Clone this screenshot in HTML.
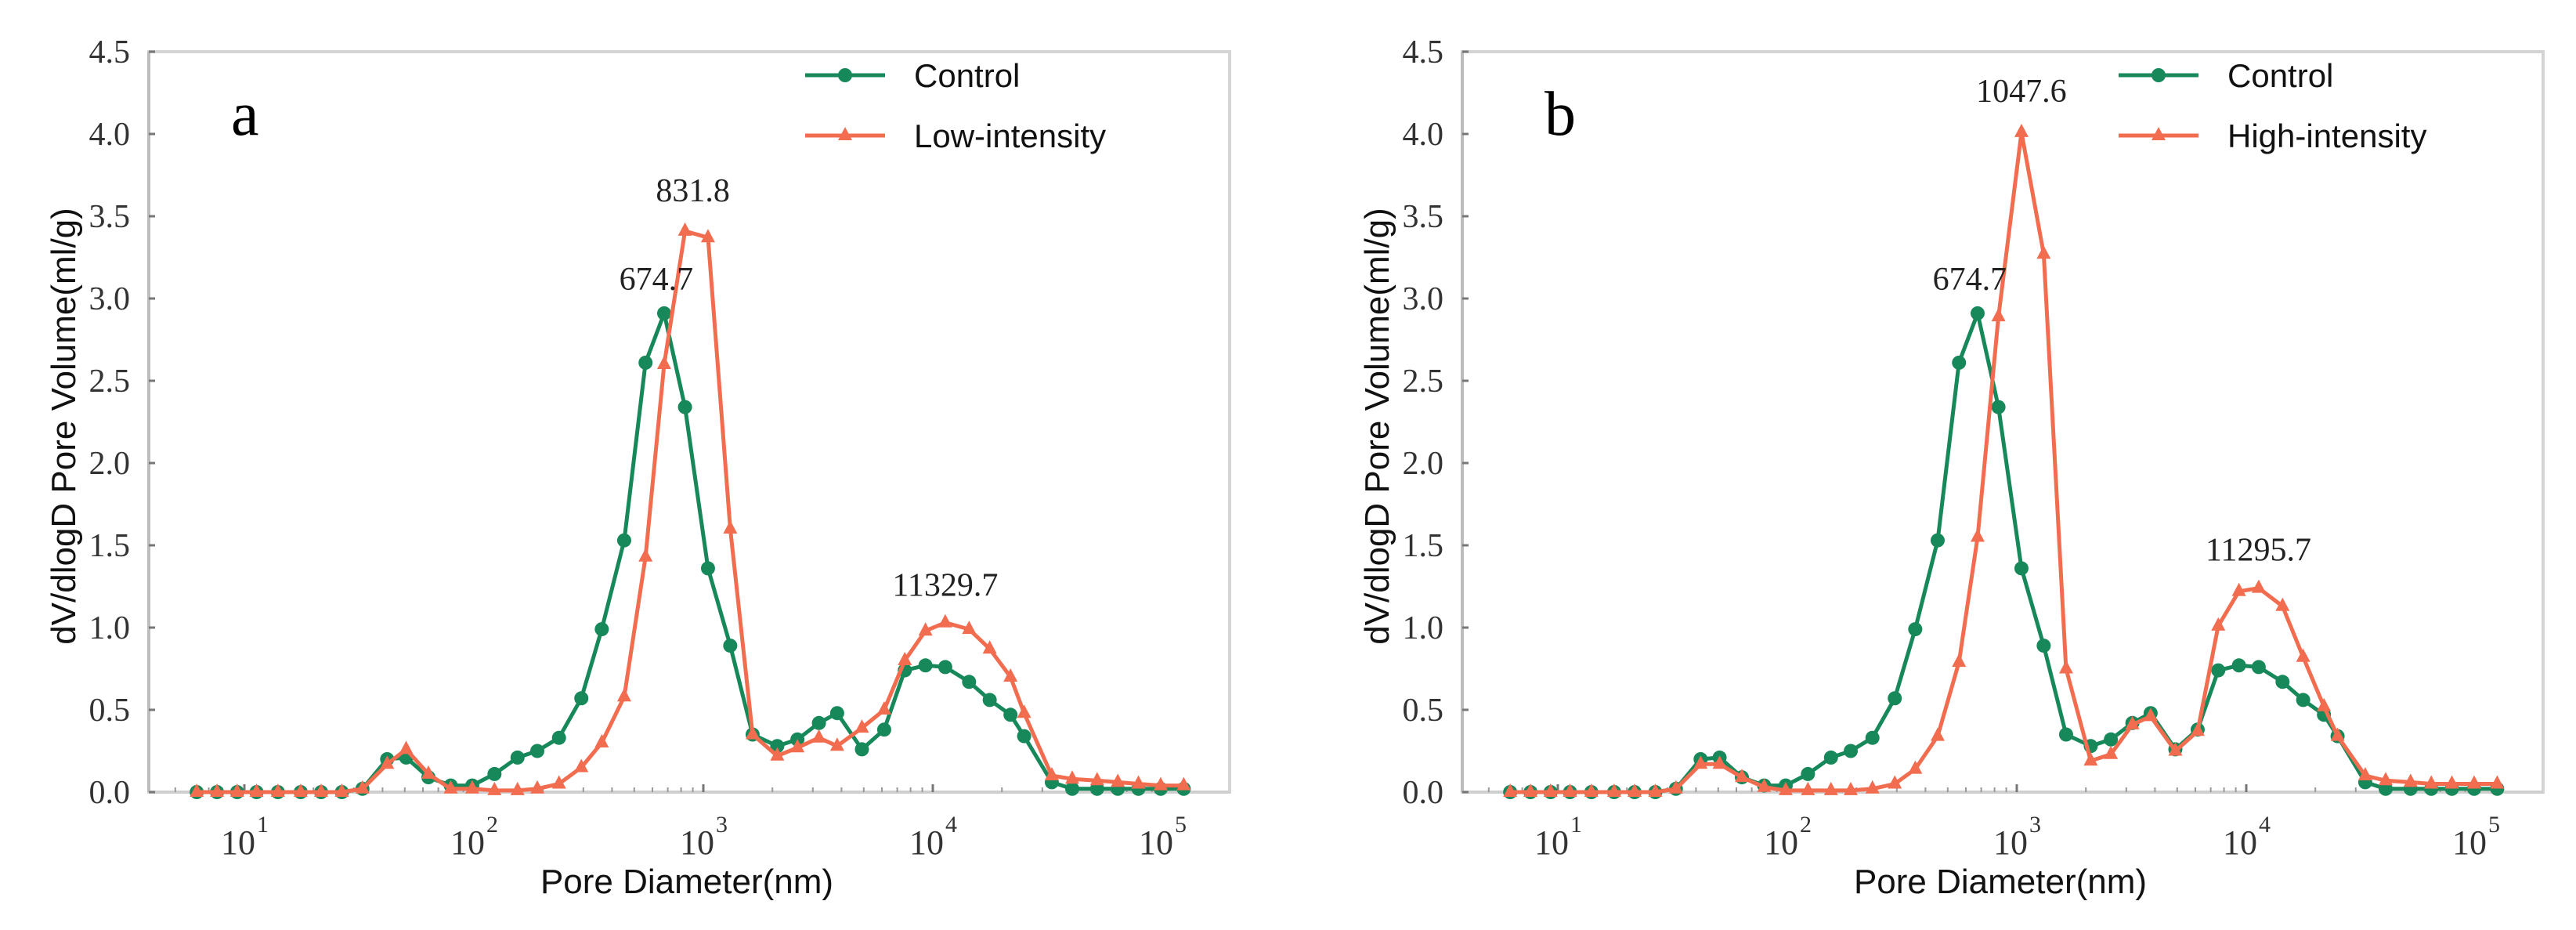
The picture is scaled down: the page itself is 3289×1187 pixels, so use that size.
<!DOCTYPE html>
<html><head><meta charset="utf-8"><style>
html,body{margin:0;padding:0;background:#fff;}
svg{display:block;}
.tk{font-family:"Liberation Serif",serif;font-size:42px;fill:#333;}
.ann{font-family:"Liberation Serif",serif;font-size:42px;fill:#222;}
.ttl{font-family:"Liberation Sans",sans-serif;font-size:44px;fill:#111;}
.leg{font-family:"Liberation Sans",sans-serif;font-size:42px;fill:#111;}
</style></head><body>
<svg id="chart" width="3289" height="1187" viewBox="0 0 3289 1187" xmlns="http://www.w3.org/2000/svg"></svg>
<script>
const diameters = [6.2,7.6,9.3,11.3,14.0,17.6,21.6,26.6,32.7,41.9,50.7,63.4,79.3,98.4,123,155,189,235,294,361,452,560,675,832,1048,1310,1640,2100,2570,3190,3830,4910,6140,7550,9290,11330,14390,17700,21800,25000,33000,40500,52000,64000,78700,98400,124000];
const controlValues = [0,0,0,0,0,0,0,0,0.02,0.2,0.21,0.09,0.04,0.04,0.11,0.21,0.25,0.33,0.57,0.99,1.53,2.61,2.91,2.34,1.36,0.89,0.35,0.28,0.32,0.42,0.48,0.26,0.38,0.74,0.77,0.76,0.67,0.56,0.47,0.34,0.06,0.02,0.02,0.02,0.02,0.02,0.02];
const lowValues = [0,0,0,0,0,0,0,0,0.02,0.17,0.26,0.11,0.02,0.02,0.01,0.01,0.02,0.05,0.15,0.3,0.58,1.43,2.6,3.41,3.37,1.6,0.35,0.22,0.27,0.33,0.28,0.39,0.5,0.8,0.98,1.03,0.99,0.87,0.7,0.48,0.1,0.08,0.07,0.06,0.05,0.04,0.04];
const highValues = [0,0,0,0,0,0,0,0,0.02,0.17,0.17,0.09,0.03,0.01,0.01,0.01,0.01,0.02,0.05,0.14,0.34,0.79,1.55,2.89,4.01,3.27,0.75,0.19,0.23,0.41,0.46,0.25,0.37,1.01,1.22,1.24,1.13,0.82,0.52,0.34,0.1,0.07,0.06,0.05,0.05,0.05,0.05];
const yTicks = [0,0.5,1.0,1.5,2.0,2.5,3.0,3.5,4.0,4.5];
const xDecades = [1,2,3,4,5];
const annA = [["674.7",674.7,2.91],["831.8",831.8,3.41],["11329.7",11329.7,1.03]];
const annB = [["674.7",674.7,2.91],["1047.6",1047.6,4.01],["11295.7",11295.7,1.24]];

const NS="http://www.w3.org/2000/svg";
const svg=document.getElementById('chart');
const GREEN="#17885a", ORANGE="#f26d50";
function mk(tag,attrs,parent){const e=document.createElementNS(NS,tag);for(const k in attrs)e.setAttribute(k,attrs[k]);(parent||svg).appendChild(e);return e;}

function panel(off,letter,seriesName,seriesVals,anns,labelOffsets){
  const g=mk('g',{});
  
  
  const L=190+off,R=1570+off,T=66,B=1011;
  const xs=d=>312+off+(Math.log10(d)-1)*293;
  const ys=v=>B-v*210;
  const frame=mk('rect',{x:L,y:T,width:R-L,height:B-T,fill:'none',stroke:'#d4d4d4','stroke-width':4},g);
  
  
  mk('line',{x1:L,y1:T,x2:L,y2:B,stroke:'#bdbdbd','stroke-width':4},g);
  mk('line',{x1:L,y1:B,x2:R,y2:B,stroke:'#cfcfcf','stroke-width':4},g);
  yTicks.forEach(t=>{
    mk('line',{x1:L,y1:ys(t),x2:L+8,y2:ys(t),stroke:'#777','stroke-width':3},g);
    const tx=mk('text',{x:L-24,y:ys(t)+14,'text-anchor':'end',class:'tk'},g);
    tx.textContent=t.toFixed(1);
    
    
  });
  xDecades.forEach(k=>{
    const x=xs(Math.pow(10,k));
    mk('line',{x1:x,y1:B,x2:x,y2:B-10,stroke:'#777','stroke-width':3},g);
    if(k<5){for(let m=2;m<10;m++){const xm=xs(m*Math.pow(10,k));mk('line',{x1:xm,y1:B,x2:xm,y2:B-6,stroke:'#999','stroke-width':2},g);}}
    const tx=mk('text',{x:x-8,y:1090,'text-anchor':'middle',class:'tk',style:'font-size:44px'},g);
    tx.textContent='10';
    
    
    const sup=mk('text',{x:x+16,y:1062,class:'tk',style:'font-size:30px'},g);
    sup.textContent=String(k);
    
    
  });
  [0.5,0.6,0.7,0.8,0.9].forEach(m=>{const xm=xs(m*10);if(xm>L)mk('line',{x1:xm,y1:B,x2:xm,y2:B-6,stroke:'#999','stroke-width':2},g);});
  function series(vals,color,marker,name){
    const sg=mk('g',{},g);
    
    
    const pts=vals.map((v,i)=>xs(diameters[i]).toFixed(1)+','+ys(v).toFixed(1)).join(' ');
    const pl=mk('polyline',{points:pts,fill:'none',stroke:color,'stroke-width':5,'stroke-linejoin':'round'},sg);
    
    
    vals.forEach((v,i)=>{
      const x=xs(diameters[i]),y=ys(v);let m;
      if(marker==='c')m=mk('circle',{cx:x,cy:y,r:9,fill:color},sg);
      else m=mk('polygon',{points:`${x},${y-11} ${x-9},${y+6} ${x+9},${y+6}`,fill:color},sg);
      
      
    });
  }
  series(controlValues,GREEN,'c','control');
  series(seriesVals,ORANGE,'t',seriesName.toLowerCase());
  anns.forEach((a,i)=>{
    const o=labelOffsets[i];
    const tx=mk('text',{x:xs(a[1])+o[0],y:ys(a[2])+o[1],'text-anchor':'middle',class:'ann'},g);
    tx.textContent=a[0];
    
    
  });
  const lt=mk('text',{x:295+off,y:172,class:'ann',style:'font-size:80px;fill:#000'},g);
  lt.textContent=letter;
  
  
  const lg=mk('g',{},g);
  
  
  [[GREEN,'c','Control',96],[ORANGE,'t',seriesName,173]].forEach(e=>{
    mk('line',{x1:1028+off,y1:e[3],x2:1130+off,y2:e[3],stroke:e[0],'stroke-width':5},lg);
    const cx=1079+off;
    if(e[1]==='c')mk('circle',{cx:cx,cy:e[3],r:9,fill:e[0]},lg);
    else mk('polygon',{points:`${cx},${e[3]-11} ${cx-9},${e[3]+6} ${cx+9},${e[3]+6}`,fill:e[0]},lg);
    const t=mk('text',{x:1167+off,y:e[3]+15,class:'leg'},lg);
    t.textContent=e[2];
    
    
  });
  const yt=mk('text',{x:0,y:0,'text-anchor':'middle',class:'ttl',transform:`translate(${96+off},544) rotate(-90)`},g);
  yt.textContent='dV/dlogD Pore Volume(ml/g)';
  
  
  const xt=mk('text',{x:877+off,y:1140,'text-anchor':'middle',class:'ttl'},g);
  xt.textContent='Pore Diameter(nm)';
  
  
}
panel(0,'a','Low-intensity',lowValues,annA,[[-10,-30],[10,-38],[0,-34]]);
panel(1677,'b','High-intensity',highValues,annB,[[-10,-30],[0,-39],[0,-35]]);
</script>
</body></html>
